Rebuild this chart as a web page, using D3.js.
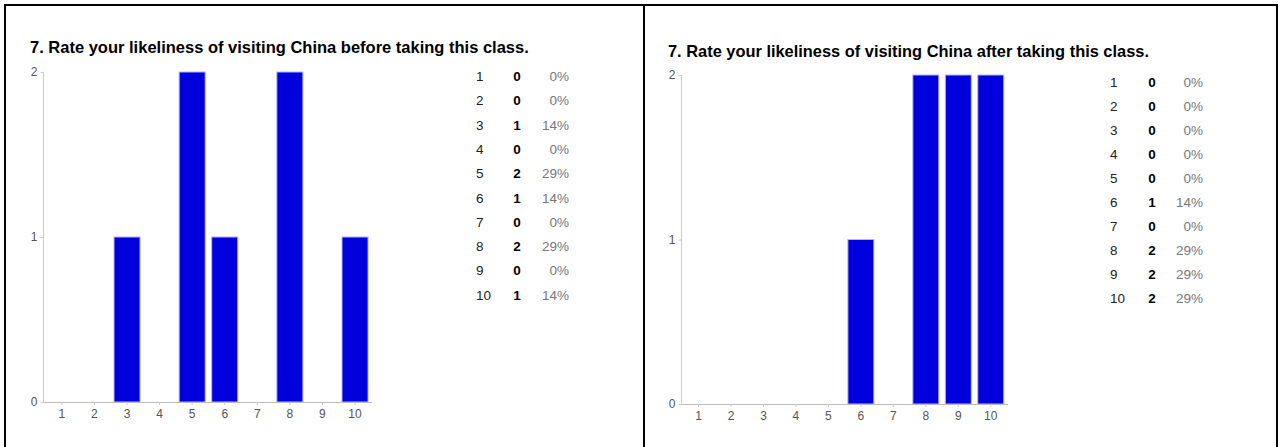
<!DOCTYPE html>
<html>
<head>
<meta charset="utf-8">
<script src="https://cdn.jsdelivr.net/npm/d3@7"></script>
<style>
  body { margin: 0; background: #fff; }
  svg { display: block; font-family: Arial, 'Liberation Sans', sans-serif; }
</style>
</head>
<body>
<svg id="chart" width="1283" height="447"></svg>
<script>
// ratings 1..10 and how many answered each, before / after the class
const ratings = [1, 2, 3, 4, 5, 6, 7, 8, 9, 10]
const beforeCounts = [0, 0, 1, 0, 2, 1, 0, 2, 0, 1]
const afterCounts = [0, 0, 0, 0, 0, 1, 0, 2, 2, 2]
const yTicks = [0, 1, 2]
const titles = [
  '7. Rate your likeliness of visiting China before taking this class.',
  '7. Rate your likeliness of visiting China after taking this class.'
]

const BAR = '#0000dd'

const svg = d3.select('#chart')

// frame round the two panels (no bottom edge, it runs off the picture)
const frame = svg.append('g').attr('stroke', '#000').attr('stroke-width', 2)
frame.append('line').attr('x1', 4).attr('x2', 1278).attr('y1', 5).attr('y2', 5)
;[5, 644, 1277].forEach((x) => {
  frame.append('line').attr('x1', x).attr('x2', x).attr('y1', 4).attr('y2', 447)
})

const panels = [
  { title: titles[0], counts: beforeCounts, titleX: 30, titleY: 53, titleSize: 16.5, axisX: 43.5, top: 72, bottom: 402, band: [45.6, 371.3], axisEnd: 372, numX: 476, countX: 517, pctX: 569, rowY: 81, rowStep: 24.3 },
  { title: titles[1], counts: afterCounts, titleX: 668, titleY: 57, titleSize: 16.4, axisX: 681.5, top: 75, bottom: 404, band: [682.3, 1007], axisEnd: 1008, numX: 1110, countX: 1152, pctX: 1203, rowY: 86.5, rowStep: 24 }
]

const renderPanel = (p) => {
  const g = svg.append('g')
  const total = d3.sum(p.counts)

  g.append('text')
    .attr('x', p.titleX)
    .attr('y', p.titleY)
    .attr('font-size', p.titleSize)
    .attr('font-weight', 'bold')
    .attr('fill', '#000')
    .text(p.title)

  const xScale = d3.scaleBand()
    .domain(ratings)
    .range(p.band)
    .paddingInner(0.2)
    .paddingOuter(0.1)

  const yScale = d3.scaleLinear()
    .domain([0, d3.max(yTicks)])
    .range([p.bottom, p.top])

  // y axis
  const yAxis = g.append('g')
    .attr('transform', `translate(${p.axisX},0)`)
    .call(d3.axisLeft(yScale).tickValues(yTicks).tickSize(3).tickPadding(3).tickFormat(d3.format('d')))
  yAxis.select('.domain').attr('stroke', '#ccc').attr('d', `M0,${p.top}V${p.bottom}`)
  yAxis.selectAll('.tick line').attr('stroke', '#ccc')
  yAxis.selectAll('.tick text').attr('fill', '#555').attr('font-size', 12).attr('font-family', 'Arial, Liberation Sans, sans-serif')

  // bars
  g.selectAll('rect.bar')
    .data(ratings.map((r, i) => ({ r, c: p.counts[i] })).filter(d => d.c > 0))
    .enter().append('rect')
    .attr('class', 'bar')
    .attr('x', d => xScale(d.r))
    .attr('y', d => yScale(d.c))
    .attr('width', xScale.bandwidth())
    .attr('height', d => yScale(0) - yScale(d.c))
    .attr('fill', BAR)
    .attr('stroke', '#b4b4ff')
    .attr('stroke-width', 1)

  // x axis
  const xAxis = g.append('g')
    .attr('transform', `translate(0,${p.bottom})`)
    .call(d3.axisBottom(xScale).tickSize(3).tickPadding(4))
  xAxis.select('.domain').attr('stroke', '#bbb').attr('d', `M${p.axisX},0.5H${p.axisEnd}`)
  xAxis.selectAll('.tick line').attr('stroke', '#ccc')
  xAxis.selectAll('.tick text').attr('fill', '#555').attr('font-size', 12).attr('font-family', 'Arial, Liberation Sans, sans-serif')

  // legend table
  const rows = g.selectAll('g.row')
    .data(ratings.map((r, i) => ({ r, c: p.counts[i] })))
    .enter().append('g')
    .attr('class', 'row')
    .attr('transform', (d, i) => `translate(0,${p.rowY + i * p.rowStep})`)
    .attr('font-size', 13.5)

  rows.append('text').attr('x', p.numX).attr('fill', '#222').text(d => d.r)
  rows.append('text').attr('x', p.countX).attr('text-anchor', 'middle')
    .attr('font-weight', 'bold').attr('fill', '#000').text(d => d.c)
  rows.append('text').attr('x', p.pctX).attr('text-anchor', 'end')
    .attr('fill', '#777').text(d => `${Math.round(d.c / total * 100)}%`)
}

panels.forEach(renderPanel)
</script>
</body>
</html>
